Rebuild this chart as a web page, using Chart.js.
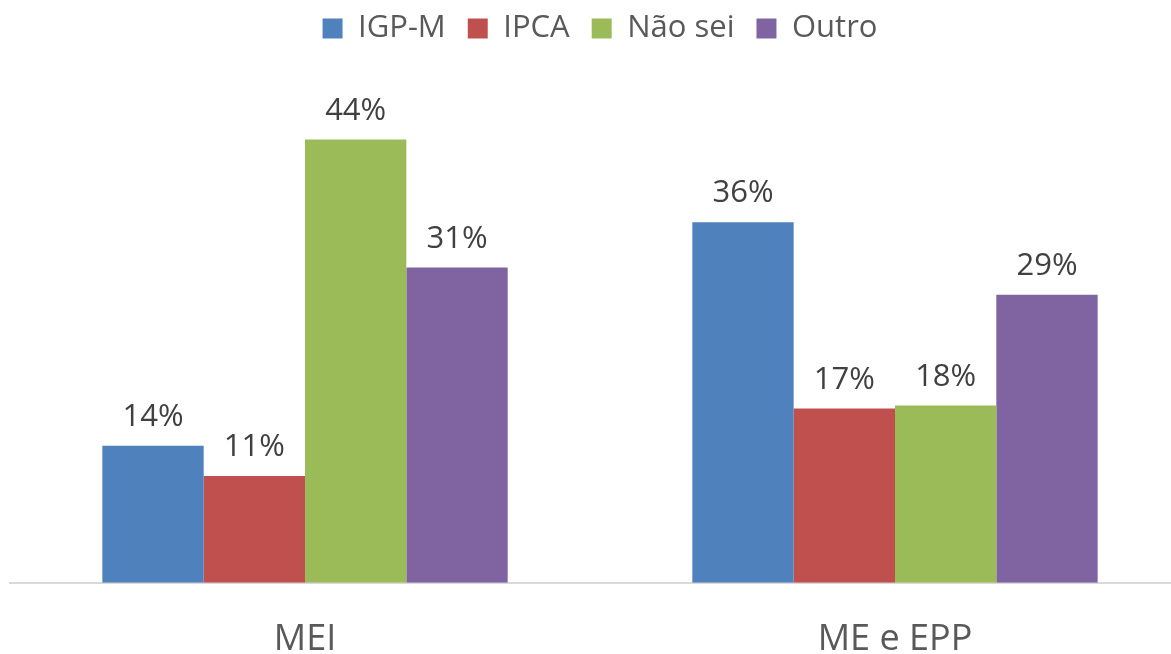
<!DOCTYPE html>
<html>
<head>
<meta charset="utf-8">
<script src="https://cdn.jsdelivr.net/npm/chart.js@4"></script>
<style>
html,body{margin:0;padding:0;background:#fff;overflow:hidden;width:1171px;height:654px;}
#c{display:block;}
</style>
</head>
<body>
<canvas id="c" width="1212" height="654"></canvas>
<script>
const categories = ["MEI", "ME e EPP"];
const seriesNames = ["IGP-M", "IPCA", "Não sei", "Outro"];
const igpm   = [13.6, 35.8];
const ipca   = [10.6, 17.3];
const naoSei = [44.0, 17.6];
const outro  = [31.3, 28.6];
const seriesColors = ["#4F81BD", "#C0504D", "#9BBB59", "#8064A2"];

const seriesValues = [igpm, ipca, naoSei, outro];

const barLabels = {
  id: 'barLabels',
  afterDatasetsDraw(chart) {
    const ctx = chart.ctx;
    ctx.save();
    ctx.font = '31px "Open Sans"';
    ctx.fillStyle = '#404040';
    ctx.textAlign = 'center';
    ctx.textBaseline = 'alphabetic';
    chart.data.datasets.forEach((ds, i) => {
      const meta = chart.getDatasetMeta(i);
      meta.data.forEach((bar, j) => {
        ctx.fillText(Math.round(ds.data[j]) + '%', bar.x, bar.y - 20);
      });
    });
    ctx.restore();
  }
};

new Chart(document.getElementById('c'), {
  type: 'bar',
  data: {
    labels: categories,
    datasets: seriesNames.map((n, i) => ({
      label: n,
      data: seriesValues[i],
      backgroundColor: seriesColors[i],
      borderWidth: 0,
      categoryPercentage: 0.687,
      barPercentage: 1.0
    }))
  },
  options: {
    responsive: false,
    animation: false,
    layout: { padding: { left: 10, right: 22, top: -9, bottom: -34 } },
    plugins: {
      legend: {
        position: 'top',
        labels: {
          font: { family: 'Open Sans', size: 31 },
          color: '#595959',
          boxWidth: 20,
          boxHeight: 20,
          padding: 22
        }
      },
      tooltip: { enabled: false }
    },
    scales: {
      x: {
        grid: { display: false },
        border: { display: true, color: '#D9D9D9', width: 2 },
        ticks: {
          font: { family: 'Open Sans', size: 36, lineHeight: 1.2 },
          color: '#595959',
          padding: 27
        }
      },
      y: {
        display: false,
        min: 0,
        max: 52.5
      }
    }
  },
  plugins: [barLabels]
});
</script>
</body>
</html>
